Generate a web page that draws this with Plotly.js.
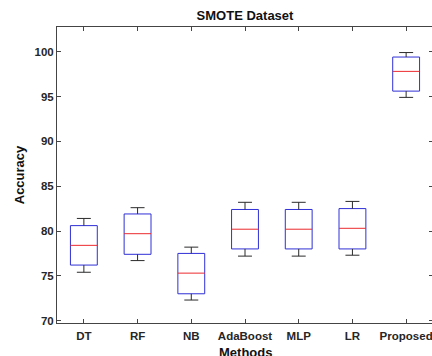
<!DOCTYPE html>
<html>
<head>
<meta charset="utf-8">
<script src="https://cdn.plot.ly/plotly-3.0.1.min.js"></script>
<style>
  html, body { margin: 0; padding: 0; background: #fff; overflow: hidden; }
  #chart { width: 434px; height: 356px; }
</style>
</head>
<body>
<div id="chart"></div>
<script>
// Classifier accuracy distributions on the SMOTE-balanced data
const methods = ['DT', 'RF', 'NB', 'AdaBoost', 'MLP', 'LR', 'Proposed'];
const minVals    = [75.4, 76.7, 72.3, 77.2, 77.2, 77.3, 94.9];
const q1Vals     = [76.2, 77.4, 73.0, 78.0, 78.0, 78.0, 95.6];
const medianVals = [78.4, 79.7, 75.3, 80.2, 80.2, 80.3, 97.8];
const q3Vals     = [80.6, 81.9, 77.5, 82.4, 82.4, 82.5, 99.4];
const maxVals    = [81.4, 82.6, 78.2, 83.2, 83.2, 83.3, 99.9];
const yTicks = [70, 75, 80, 85, 90, 95, 100];

const pos = methods.map((_, i) => i);
const boxHalf = 0.25;   // half the box width, in category units
const capHalf = 0.13;   // half the whisker cap width

// Interquartile boxes: blue outline, spanning q1..q3
const boxes = {
  type: 'bar',
  x: pos,
  base: q1Vals,
  y: q3Vals.map((q3, i) => q3 - q1Vals[i]),
  width: boxHalf * 2,
  marker: { color: 'rgba(255,255,255,0)', line: { color: '#2f2fd6', width: 1 } },
  hoverinfo: 'skip',
  showlegend: false
};

// Whiskers and caps (black)
const wx = [], wy = [];
pos.forEach(i => {
  wx.push(i, i, null, i, i, null);
  wy.push(minVals[i], q1Vals[i], null, q3Vals[i], maxVals[i], null);
  wx.push(i - capHalf, i + capHalf, null, i - capHalf, i + capHalf, null);
  wy.push(minVals[i], minVals[i], null, maxVals[i], maxVals[i], null);
});
const whiskers = {
  type: 'scatter', mode: 'lines',
  x: wx, y: wy,
  line: { color: '#2b2b2b', width: 1 },
  hoverinfo: 'skip', showlegend: false
};

// Median lines (red)
const mx = [], my = [];
pos.forEach(i => {
  mx.push(i - boxHalf, i + boxHalf, null);
  my.push(medianVals[i], medianVals[i], null);
});
const medians = {
  type: 'scatter', mode: 'lines',
  x: mx, y: my,
  line: { color: '#ec2a2e', width: 1 },
  hoverinfo: 'skip', showlegend: false
};

const fontFamily = 'Liberation Sans, Arial, sans-serif';
const tickFont = { family: fontFamily, size: 11.5, color: '#262626', weight: 'bold' };
const titleFont = { family: fontFamily, size: 13, color: '#111', weight: 'bold' };

const layout = {
  width: 434,
  height: 356,
  margin: { l: 57, r: 1, t: 27, b: 33 },
  paper_bgcolor: '#ffffff',
  plot_bgcolor: '#ffffff',
  title: {
    text: '<b>SMOTE Dataset</b>',
    font: titleFont,
    x: 245 / 434,
    xanchor: 'center',
    y: 1 - 15 / 356,
    yanchor: 'middle'
  },
  xaxis: {
    range: [-0.5, 6.5],
    tickmode: 'array',
    tickvals: pos,
    ticktext: methods.map(m => '<b>' + m + '</b>'),
    ticks: 'inside',
    ticklen: 4,
    tickcolor: '#444',
    showline: true,
    linecolor: '#444',
    linewidth: 1,
    mirror: 'ticks',
    showgrid: false,
    zeroline: false,
    tickfont: tickFont,
    ticklabelstandoff: 2
  },
  yaxis: {
    range: [69.74, 102.75],
    tickmode: 'array',
    tickvals: yTicks,
    ticktext: yTicks.map(v => '<b>' + v + '</b>'),
    ticks: 'inside',
    ticklen: 4,
    tickcolor: '#444',
    showline: true,
    linecolor: '#444',
    linewidth: 1,
    mirror: 'ticks',
    showgrid: false,
    zeroline: false,
    tickfont: tickFont,
    title: { text: '<b>Accuracy</b>', font: titleFont, standoff: 6 }
  },
  // x-axis title placed low, against the bottom edge of the figure
  annotations: [{
    text: '<b>Methods</b>',
    font: titleFont,
    xref: 'paper', yref: 'paper',
    x: 0.5, xanchor: 'center',
    y: -21 / 296, yanchor: 'top',
    borderpad: 0,
    showarrow: false
  }]
};

Plotly.newPlot('chart', [boxes, whiskers, medians], layout, { displayModeBar: false, staticPlot: true });
</script>
</body>
</html>
